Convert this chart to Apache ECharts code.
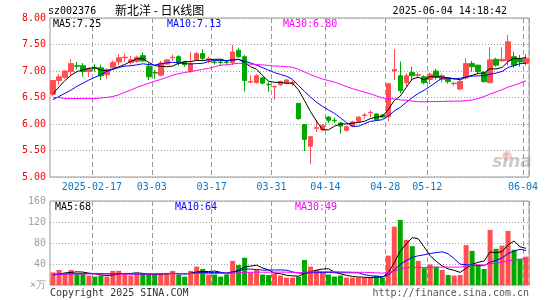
<!DOCTYPE html>
<html><head><meta charset="utf-8">
<script src="https://cdn.jsdelivr.net/npm/echarts@6/dist/echarts.min.js"></script>
<style>html,body{margin:0;padding:0;background:#fff}#c{width:545px;height:300px}</style>
</head><body><div id="c"></div>
<script>
const dates = [
'2025-02-06','2025-02-07','2025-02-10','2025-02-11','2025-02-12','2025-02-13','2025-02-14',
'2025-02-17','2025-02-18','2025-02-19','2025-02-20','2025-02-21',
'2025-02-24','2025-02-25','2025-02-26','2025-02-27','2025-02-28',
'2025-03-03','2025-03-04','2025-03-05','2025-03-06','2025-03-07',
'2025-03-10','2025-03-11','2025-03-12','2025-03-13','2025-03-14',
'2025-03-17','2025-03-18','2025-03-19','2025-03-20','2025-03-21',
'2025-03-24','2025-03-25','2025-03-26','2025-03-27','2025-03-28',
'2025-03-31','2025-04-01','2025-04-02','2025-04-03',
'2025-04-07','2025-04-08','2025-04-09','2025-04-10','2025-04-11',
'2025-04-14','2025-04-15','2025-04-16','2025-04-17','2025-04-18',
'2025-04-21','2025-04-22','2025-04-23','2025-04-24','2025-04-25',
'2025-04-28','2025-04-29','2025-04-30',
'2025-05-06','2025-05-07','2025-05-08','2025-05-09',
'2025-05-12','2025-05-13','2025-05-14','2025-05-15','2025-05-16',
'2025-05-19','2025-05-20','2025-05-21','2025-05-22','2025-05-23',
'2025-05-26','2025-05-27','2025-05-28','2025-05-29','2025-05-30',
'2025-06-03','2025-06-04'];

const opens = [
6.56,6.82,6.88,6.99,7.10,7.10,6.99,7.06,7.06,6.93,
7.06,7.17,7.25,7.16,7.18,7.29,7.09,6.97,6.92,7.13,
7.25,7.27,7.17,6.99,7.21,7.33,7.21,7.17,7.17,7.17,
7.16,7.39,7.27,6.79,6.78,6.87,6.75,6.70,6.74,6.77,
6.77,6.39,5.99,5.58,5.92,5.89,6.13,6.07,6.02,5.88,
5.96,6.05,6.16,6.21,6.19,6.17,6.14,7.00,6.91,6.78,
6.97,6.92,6.89,6.84,7.00,6.84,6.87,6.76,6.66,6.87,
7.14,7.11,6.97,6.78,7.22,7.19,7.20,7.27,7.22,7.14];
const closes = [
6.82,6.89,7.00,7.14,7.09,6.99,7.04,7.05,6.91,7.03,
7.16,7.25,7.26,7.21,7.26,7.19,6.89,6.96,7.15,7.21,
7.26,7.15,7.12,7.14,7.33,7.24,7.23,7.16,7.16,7.16,
7.36,7.27,6.82,6.80,6.91,6.77,6.74,6.71,6.80,6.83,
6.78,6.10,5.71,5.76,5.93,5.97,6.07,6.06,5.96,5.95,
6.04,6.13,6.17,6.22,6.08,6.13,6.76,7.03,6.63,6.91,
6.91,6.93,6.78,6.94,6.88,6.91,6.80,6.77,6.80,7.14,
7.08,6.99,6.80,7.21,7.11,7.22,7.55,7.11,7.17,7.24];
const highs = [
6.83,6.94,7.01,7.22,7.17,7.15,7.06,7.13,7.12,7.05,
7.20,7.32,7.33,7.29,7.29,7.35,7.15,7.02,7.19,7.21,
7.31,7.30,7.19,7.36,7.36,7.41,7.27,7.20,7.22,7.21,
7.49,7.44,7.30,6.92,6.94,6.89,6.79,6.72,6.82,6.85,
6.82,6.39,6.00,5.78,6.08,6.00,6.15,6.12,6.04,5.97,
6.06,6.15,6.21,6.26,6.20,6.18,6.76,7.41,7.18,6.96,
7.08,6.97,6.92,6.97,7.04,6.95,6.88,6.80,6.83,7.24,
7.19,7.12,7.00,7.45,7.25,7.45,7.68,7.36,7.30,7.32];
const lows = [
6.52,6.74,6.86,6.90,7.03,6.89,6.89,6.99,6.83,6.85,
7.04,7.11,7.17,7.12,7.16,7.17,6.83,6.85,6.90,7.12,
7.19,7.10,7.08,6.97,7.19,7.20,7.15,7.12,7.10,7.12,
7.11,7.25,6.61,6.77,6.76,6.75,6.61,6.46,6.72,6.75,
6.72,6.08,5.49,5.24,5.85,5.86,6.02,6.02,5.82,5.86,
5.94,6.03,6.10,6.13,6.06,6.11,6.05,6.83,6.58,6.71,
6.83,6.88,6.75,6.75,6.84,6.78,6.76,6.72,6.63,6.84,
6.99,6.94,6.78,6.77,7.08,7.18,7.10,7.06,7.08,7.10];
const volumes = [
24,28.6,22,28.6,22,22,18,16,18,16,
27,27,22,18,22,22,20,19,22,22,
27,20,16,27,35,30.5,20,20,16,20,
46,38,52,24,28.6,20,19,22,18,14,
14,16,47.6,35,28.6,24,20,16,18,14,
14,14,14,14,18,14,56,111,124,86,
74,46,32,39,35,28.6,19,18,19,76,
65,38,30.5,105,69,75,103,67,50,54];

// moving-average values at the left edge (history before the first candle)
const priceMA5Head = [6.57,6.70,6.82,6.92];
const priceMA10Head = [6.46,6.52,6.58,6.64,6.71,6.77,6.83,6.88,6.93];
const priceMA30Head = [6.50,6.50,6.48,6.48,6.48,6.48,6.48,6.48,6.49,6.50,6.52,6.55,6.60,6.64,6.69,6.73,6.77,6.81,6.84,6.88,6.92,6.95,6.97,6.99,7.01,7.03,7.05,7.08,7.11];
const volMA5Head = [19,21,23,24];
const volMA10Head = [20,20,21,21,22,22,22,22,22];
const volMA30Head = [21,21,21,21,21,21,21,21,21,21,21,21,21,21,21,21,21,21,21.5,21.5,21.5,21.5,22,22,22,22,22,22,22];

const labelIndices = [7,17,27,37,46,56,63,79];
const priceTicks = {min:5, max:8, step:0.5};
const volTicks = {min:0, max:160, step:40};
const priceMALabels = ['MA5:7.25','MA10:7.13','MA30:6.80'];
const volMALabels = ['MA5:68','MA10:64','MA30:49'];

function movingAvg(values, n, head){
  return values.map((v,i)=>{
    if(i < n-1) return head[i];
    let s=0; for(let k=i-n+1;k<=i;k++) s+=values[k];
    return +(s/n).toFixed(3);
  });
}

const RED='#ff5050', GREEN='#00a800';
const MONO='"DejaVu Sans Mono", "Liberation Mono", monospace';
const showIdx = (i)=>labelIndices.indexOf(i) >= 0;
const kData = dates.map((d,i)=>[opens[i],closes[i],lows[i],highs[i]]);

const chart = echarts.init(document.getElementById('c'), null, {renderer:'canvas'});
const splitV = {show:true, interval:(i)=>showIdx(i), lineStyle:{color:'#999999', type:[5,3], width:1}};
const splitH = {show:true, lineStyle:{color:'#a0a0a0', type:[1,2], width:1}};

function txt(x,y,text,color,size,align,family){
  return {type:'text', x:x, y:y, silent:true, z:100,
    style:{text:text, fill:color, font: (size||10)+'px '+(family||MONO), textAlign:align||'left', textVerticalAlign:'middle'}};
}

chart.setOption({
  animation:false,
  backgroundColor:'#fff',
  grid:[
    {left:50, right:16, top:18, height:159, show:true, borderColor:'#999999', borderWidth:1},
    {left:50, right:16, top:201, height:84, show:true, borderColor:'#999999', borderWidth:1}
  ],
  xAxis:[
    {type:'category', gridIndex:0, data:dates, boundaryGap:true,
     axisLine:{show:false}, axisTick:{show:false},
     axisLabel:{interval:(i)=>showIdx(i), color:'#0a78c8', fontSize:10, fontFamily:MONO, margin:5, padding:[0,6,0,0],
       formatter:(v,i)=> i===labelIndices[0] ? v : v.slice(5)},
     splitLine:splitV},
    {type:'category', gridIndex:1, data:dates, boundaryGap:true,
     axisLine:{show:false}, axisTick:{show:false}, axisLabel:{show:false},
     splitLine:splitV}
  ],
  yAxis:[
    {type:'value', gridIndex:0, min:priceTicks.min, max:priceTicks.max, interval:priceTicks.step,
     axisLine:{show:false}, axisTick:{show:false},
     axisLabel:{color:'#ff0000', fontSize:10, fontFamily:MONO, margin:4, formatter:(v)=>v.toFixed(2)},
     splitLine:splitH},
    {type:'value', gridIndex:1, min:volTicks.min, max:volTicks.max, interval:volTicks.step,
     axisLine:{show:false}, axisTick:{show:false},
     axisLabel:{color:'#a0a0a0', fontSize:10, fontFamily:MONO, margin:4, formatter:(v)=> v===0 ? '×万' : String(v)},
     splitLine:splitH}
  ],
  series:[
    {type:'candlestick', xAxisIndex:0, yAxisIndex:0, data:kData, barWidth:5,
     itemStyle:{color:RED, color0:GREEN, borderColor:RED, borderColor0:GREEN, borderWidth:1}},
    {type:'line', xAxisIndex:0, yAxisIndex:0, data:movingAvg(closes,5,priceMA5Head), symbol:'none', z:4, lineStyle:{color:'#000', width:1}},
    {type:'line', xAxisIndex:0, yAxisIndex:0, data:movingAvg(closes,10,priceMA10Head), symbol:'none', z:4, lineStyle:{color:'#0000ff', width:1}},
    {type:'line', xAxisIndex:0, yAxisIndex:0, data:movingAvg(closes,30,priceMA30Head), symbol:'none', z:4, lineStyle:{color:'#ff00ff', width:1}},
    {type:'bar', xAxisIndex:1, yAxisIndex:1, data:volumes, barWidth:5,
     itemStyle:{color:(p)=> closes[p.dataIndex] >= opens[p.dataIndex] ? RED : GREEN}},
    {type:'line', xAxisIndex:1, yAxisIndex:1, data:movingAvg(volumes,5,volMA5Head), symbol:'none', z:4, lineStyle:{color:'#000', width:1}},
    {type:'line', xAxisIndex:1, yAxisIndex:1, data:movingAvg(volumes,10,volMA10Head), symbol:'none', z:4, lineStyle:{color:'#0000ff', width:1}},
    {type:'line', xAxisIndex:1, yAxisIndex:1, data:movingAvg(volumes,30,volMA30Head), symbol:'none', z:4, lineStyle:{color:'#ff00ff', width:1}}
  ],
  graphic:[
    txt(48,11,'sz002376','#000',10),
    txt(115,10,'新北洋 - 日K线图','#000',12,'left','"Noto Sans CJK SC", "DejaVu Sans Mono", sans-serif'),
    txt(507,11,'2025-06-04 14:18:42','#000',10,'right'),
    txt(53,24,priceMALabels[0],'#000',10),
    txt(167,24,priceMALabels[1],'#0000ff',10),
    txt(283,24,priceMALabels[2],'#ff00ff',10),
    txt(55,207,volMALabels[0],'#000',10),
    txt(175,207,volMALabels[1],'#0000ff',10),
    txt(295,207,volMALabels[2],'#ff00ff',10),
    txt(50,293,'Copyright 2025 SINA.COM','#333',10),
    txt(529,293,'http://finance.sina.com.cn','#555',10,'right'),
    {type:'circle', shape:{cx:507, cy:156, r:5}, style:{fill:'rgba(235,120,120,0.35)'}, silent:true, z:1},
    {type:'text', x:512, y:163, silent:true, z:1,
     style:{text:'sina', fill:'rgba(150,150,150,0.5)', font:'italic bold 17px "DejaVu Sans", sans-serif', textAlign:'center', textVerticalAlign:'middle'}}
  ]
});
</script>
</body></html>
